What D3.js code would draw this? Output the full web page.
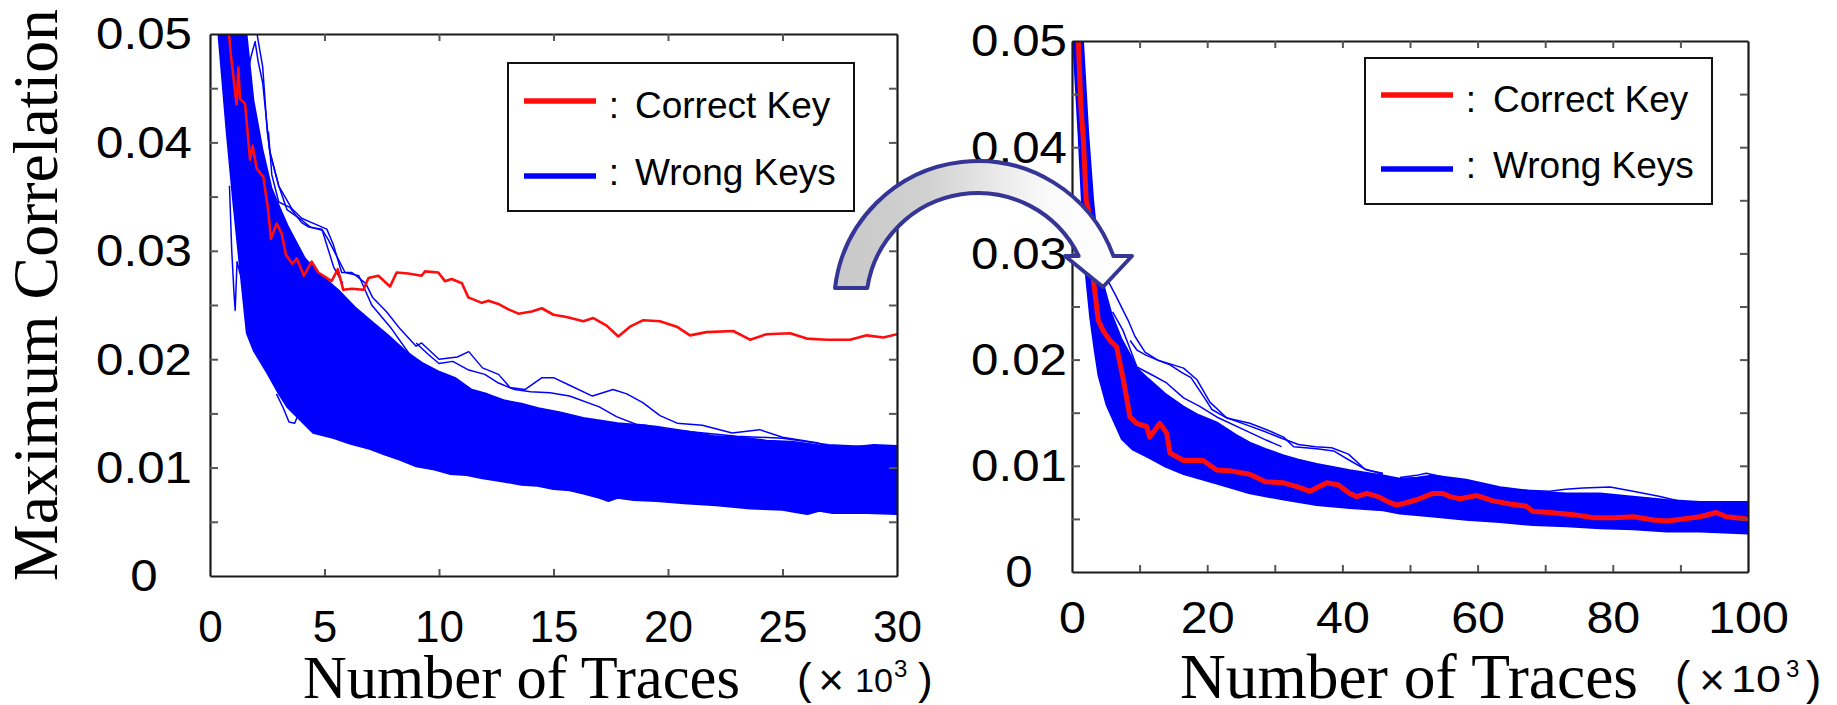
<!DOCTYPE html>
<html><head><meta charset="utf-8">
<script src="https://cdn.jsdelivr.net/npm/d3@7"></script>
<style>
html,body{margin:0;padding:0;background:#fff;}
svg{display:block;}
</style></head><body>
<svg id="chart" width="1837" height="705"></svg>
<script>
// ---------------- DATA (x in 10^3 traces, y = maximum correlation) ----------------
// Left panel: 0..30 k traces
const leftXTickLabels = [0, 5, 10, 15, 20, 25, 30];
const leftXMinorTicks = [5, 10, 15, 20, 25];
const leftYTickLabels = [0, 0.01, 0.02, 0.03, 0.04, 0.05];
const yMinorTicks = [0.005, 0.01, 0.015, 0.02, 0.025, 0.03, 0.035, 0.04, 0.045];

const leftCorrect = [[0.75,0.055],[0.83,0.05],[0.92,0.0479],[1.16,0.0435],[1.24,0.0469],[1.31,0.044],[1.53,0.0436],[1.75,0.0384],[1.86,0.0397],[2.04,0.0376],[2.33,0.0368],[2.55,0.0336],[2.66,0.0311],[2.91,0.0325],[3.13,0.0316],[3.32,0.0296],[3.6,0.0288],[3.79,0.0293],[4.1,0.0277],[4.44,0.029],[4.73,0.028],[5.31,0.0272],[5.58,0.0283],[5.82,0.0264],[6.19,0.0265],[6.7,0.0264],[6.92,0.0275],[7.35,0.0277],[7.86,0.0267],[8.15,0.028],[8.66,0.0279],[9.24,0.0277],[9.39,0.0281],[9.97,0.028],[10.26,0.0272],[10.55,0.0274],[11.0,0.027],[11.28,0.0257],[11.87,0.0252],[12.16,0.0254],[12.59,0.0251],[13.03,0.0246],[13.47,0.0242],[14.05,0.0244],[14.49,0.0247],[15.0,0.0241],[15.57,0.0239],[16.3,0.0235],[16.74,0.0238],[17.32,0.0231],[17.83,0.0221],[18.34,0.023],[18.92,0.0236],[19.65,0.0235],[20.38,0.023],[20.96,0.0222],[21.68,0.0225],[22.85,0.0226],[23.58,0.0218],[24.3,0.0223],[25.33,0.0224],[26.06,0.0219],[26.93,0.0218],[27.95,0.0218],[28.68,0.0222],[29.4,0.022],[30,0.0223]];

const leftWrongUpper = [[0.25,0.07],[1.45,0.056],[1.6,0.05],[1.9,0.0439],[2.3,0.0393],[2.69,0.0358],[2.9,0.0347],[3.42,0.0322],[4.15,0.0293],[4.88,0.0277],[5.6,0.0264],[6.33,0.0248],[7.06,0.0235],[7.79,0.0222],[8.52,0.0208],[9.24,0.0197],[9.97,0.0189],[10.7,0.0183],[11.43,0.0172],[12.1,0.0168],[12.88,0.0162],[13.6,0.0159],[14.34,0.0155],[15.3,0.0151],[16.3,0.0146],[17.8,0.0141],[19,0.0139],[20,0.0135],[21,0.0133],[22.1,0.0129],[23.2,0.0128],[24.3,0.0125],[25.4,0.0124],[26.5,0.0121],[28,0.0119],[29,0.0121],[30,0.012]];
const leftWrongLower = [[0.25,0.07],[0.36,0.05],[0.72,0.041],[1.0,0.0347],[1.3,0.0285],[1.6,0.0224],[1.9,0.0208],[2.5,0.0187],[3.0,0.0168],[3.36,0.0156],[4.5,0.0132],[5.4,0.0127],[6.1,0.0122],[7.0,0.0117],[7.6,0.0112],[8.3,0.0107],[9.0,0.0101],[9.8,0.0098],[10.5,0.0094],[11.2,0.0093],[11.9,0.009],[12.8,0.0087],[13.6,0.0084],[14.3,0.0083],[15,0.008],[15.7,0.0079],[16.3,0.0076],[17.0,0.0072],[17.4,0.0069],[17.8,0.0072],[18.5,0.007],[19.5,0.0069],[20.7,0.0067],[22.1,0.0065],[23.6,0.0062],[25,0.0061],[25.8,0.0058],[26.1,0.0057],[26.6,0.006],[27.2,0.0058],[28.7,0.0058],[30,0.0057]];
const leftWrong1 = [[1.9,0.052],[2.11,0.0493],[2.3,0.047],[2.5,0.041],[2.62,0.039],[3.0,0.036],[3.57,0.0339],[4.0,0.033],[4.44,0.0326],[5.1,0.032],[5.38,0.0306],[5.75,0.028],[6.2,0.028],[6.8,0.027],[7.1,0.0257],[7.7,0.0244],[8.3,0.0228],[9.0,0.0212],[9.24,0.0215],[10.0,0.02],[10.8,0.0202],[11.3,0.0207],[11.9,0.0192],[12.6,0.0186],[13.1,0.0174],[13.75,0.0172],[14.5,0.0183],[15.0,0.0183],[15.7,0.0176],[16.7,0.0166],[17.6,0.0172],[18.2,0.0168],[18.9,0.016],[19.65,0.0148],[20.4,0.0141],[21.5,0.0139],[22.8,0.0132],[24,0.0135],[25,0.0128],[26.5,0.0123],[27.2,0.0118],[28.5,0.0119],[30,0.0118]];
const leftWrong2 = [[9.0,0.0215],[9.5,0.0205],[10.0,0.0196],[10.6,0.0198],[11.3,0.019],[12.0,0.0186],[12.6,0.0178],[13.3,0.0172],[14.0,0.017],[14.85,0.0169],[15.7,0.0166],[17.0,0.0156],[17.75,0.0147],[18.6,0.014],[19.5,0.0138],[21,0.0133],[23,0.0129],[25,0.0127],[27,0.0121],[30,0.0118]];
const leftWrong3 = [[2.55,0.041],[2.7,0.037],[3.0,0.0345],[3.49,0.034],[4.0,0.0326],[4.3,0.0322],[4.88,0.032],[5.17,0.031],[5.9,0.028],[6.5,0.0277],[7.06,0.025],[7.93,0.0228],[8.8,0.0202],[9.5,0.019]];
const leftWrong4 = [[1.6,0.046],[1.8,0.048],[1.97,0.0493],[2.1,0.0475],[2.3,0.0455],[2.6,0.0393],[3.0,0.036],[3.36,0.0338],[3.9,0.033],[4.37,0.0322],[4.9,0.0319],[5.4,0.0285],[5.8,0.027]];
const leftWrong5 = [[0.85,0.036],[0.95,0.03],[1.05,0.026],[1.1,0.0245],[1.18,0.029],[1.3,0.028],[1.5,0.027]];
const leftWrong6 = [[2.9,0.0168],[3.2,0.0155],[3.45,0.0142],[3.7,0.0141],[3.9,0.0152],[4.2,0.0149],[4.5,0.0136]];

// Right panel: 0..100 k traces
const rightXTickLabels = [0, 20, 40, 60, 80, 100];
const rightXMinorTicks = [10, 20, 30, 40, 50, 60, 70, 80, 90];
const rightYTickLabels = [0, 0.01, 0.02, 0.03, 0.04, 0.05];

const rightCorrect = [[0.9,0.06],[0.94,0.05],[1.3,0.044],[1.68,0.0407],[2.1,0.035],[2.42,0.0342],[3.15,0.0276],[3.89,0.0237],[4.63,0.0227],[5.62,0.0218],[6.6,0.0212],[7.6,0.0181],[8.58,0.0146],[9.57,0.014],[11.05,0.0137],[11.5,0.0127],[13.0,0.014],[14.0,0.0131],[14.5,0.0112],[16.5,0.0105],[19.4,0.0105],[21.4,0.0096],[23.6,0.0095],[26.3,0.0092],[28.6,0.0085],[31.3,0.0084],[33.5,0.008],[35.2,0.0076],[37.7,0.0084],[39.4,0.0082],[41.1,0.0074],[42.1,0.0071],[43.6,0.0074],[45.3,0.0071],[46.8,0.0066],[48,0.0063],[49.3,0.0065],[51,0.0068],[53.4,0.0074],[54.9,0.0074],[55.9,0.0071],[57.4,0.0069],[59.9,0.0072],[62.3,0.0067],[64.8,0.0064],[67.2,0.0062],[68.2,0.0057],[70.7,0.0056],[74.2,0.0054],[77.2,0.0051],[80.1,0.0051],[83.1,0.0052],[86.0,0.0049],[88,0.0048],[90.4,0.005],[92.9,0.0052],[95.3,0.0056],[96.8,0.0052],[100,0.005]];
const rightWrongUpper = [[1.2,0.07],[1.68,0.0497],[2.42,0.0413],[3.15,0.035],[4.14,0.0287],[4.9,0.0265],[5.87,0.0243],[7.3,0.022],[8.83,0.0202],[9.6,0.0192],[11.3,0.0182],[13.8,0.0168],[16.5,0.0156],[18.7,0.0148],[21.4,0.0141],[24.6,0.0128],[26.3,0.0122],[28.6,0.0116],[31.3,0.011],[33.5,0.0106],[36.2,0.0102],[41.1,0.0096],[46,0.0091],[48.5,0.0088],[51,0.0089],[53.4,0.0091],[58.3,0.0087],[63.3,0.008],[68.2,0.0076],[73.2,0.0074],[78.1,0.0074],[83,0.0071],[88,0.0068],[92.9,0.0066],[100,0.0066]];
const rightWrongLower = [[0.1,0.07],[0.15,0.05],[0.94,0.0413],[1.43,0.035],[1.92,0.0287],[2.66,0.024],[3.3,0.021],[3.9,0.0185],[5.1,0.0157],[7.35,0.0125],[9,0.0115],[11.5,0.0107],[13.8,0.0099],[16.5,0.0092],[21.4,0.0083],[26.3,0.0074],[31.3,0.0068],[36.2,0.0063],[41.1,0.006],[46,0.0058],[48.5,0.0055],[53.4,0.0052],[58.3,0.0049],[63.3,0.0047],[68.2,0.0044],[73.2,0.0043],[78.1,0.0041],[83,0.004],[88,0.0038],[92.9,0.0038],[100,0.0036]];
const rightWrong1 = [[8.6,0.0218],[9.6,0.0209],[11,0.0204],[12.5,0.02],[14.5,0.0196],[16.5,0.0192],[18.5,0.0181],[20.4,0.016],[22.9,0.0145],[26.3,0.014],[28.8,0.0134],[31.3,0.0127],[32.8,0.0118],[36.2,0.0116],[38.7,0.0114],[41.1,0.0105],[43.6,0.0096],[46,0.0093]];
const rightWrong2 = [[6.0,0.0245],[7.5,0.0228],[8.3,0.0215],[9.6,0.0193],[12,0.0185],[14,0.0178],[16.5,0.0164],[18.9,0.0156],[21.4,0.0146],[25.4,0.0134],[28.8,0.0124],[31,0.0118]];
const rightWrong3 = [[48.5,0.0089],[51,0.0091],[52.4,0.0093],[55.9,0.0088],[60,0.0084],[63.3,0.0078],[67,0.0077],[70.7,0.0076],[73,0.0078],[75.6,0.0079],[79.6,0.008],[83,0.0076],[87,0.0071],[90.4,0.0066],[95.3,0.0065],[100,0.0065]];
const rightWrong4 = [[4.5,0.0285],[5.5,0.0272],[6.5,0.026],[7.5,0.0247],[8.3,0.0237],[9.3,0.0222],[10.8,0.0207],[12.8,0.0199],[14.5,0.0195],[16.2,0.0188],[17.6,0.0183],[19.7,0.0163],[20.7,0.0153],[22.6,0.0146],[25.6,0.0139],[28.6,0.0132],[31,0.0126],[33.5,0.012],[36,0.0118],[38.4,0.0117],[40.9,0.0111],[43.3,0.0097],[46,0.0092]];

const legendLabels = ["Correct Key", "Wrong Keys"];
const yTitle = "Maximum Correlation";
const xTitle = "Number of Traces";

// ---------------- DRAWING ----------------
const svg = d3.select("#chart");
const defs = svg.append("defs");
const BLUE = "#0000ff", RED = "#ff0d0d";
const SANS = "'Liberation Sans', Arial, Helvetica, sans-serif";
const SERIF = "'Liberation Serif', 'Times New Roman', serif";
const fmtY = d => d === 0 ? "0" : d.toFixed(2);

function stretch(sel, f) {
  sel.each(function () {
    const w = this.getComputedTextLength();
    d3.select(this).attr("textLength", w * f).attr("lengthAdjust", "spacingAndGlyphs");
  });
}

function panel(cfg) {
  const g = svg.append("g").attr("transform", `translate(${cfg.left},${cfg.top})`);
  const x = d3.scaleLinear().domain(cfg.xDomain).range([0, cfg.width]);
  const y = d3.scaleLinear().domain([0, 0.05]).range([cfg.height, 0]);
  defs.append("clipPath").attr("id", cfg.id).append("rect").attr("width", cfg.width).attr("height", cfg.height);
  const plot = g.append("g").attr("clip-path", `url(#${cfg.id})`);
  const line = d3.line().x(d => x(d[0])).y(d => y(d[1]));

  const poly = cfg.upper.concat(cfg.lower.slice().reverse());
  plot.append("path").attr("d", line(poly) + "Z")
    .attr("fill", BLUE).attr("stroke", BLUE).attr("stroke-width", 1.6).attr("stroke-linejoin", "round");
  cfg.outliers.forEach(o => plot.append("path").attr("d", line(o))
    .attr("fill", "none").attr("stroke", BLUE).attr("stroke-width", 1.5).attr("stroke-linejoin", "round"));
  plot.append("path").attr("d", line(cfg.correct))
    .attr("fill", "none").attr("stroke", RED).attr("stroke-width", cfg.redWidth).attr("stroke-linejoin", "round");

  // frame + inward ticks (no labels)
  const styleAx = a => {
    a.selectAll("text").remove();
    a.select(".domain").attr("stroke", "#1a1a1a").attr("stroke-width", 2.2);
    a.selectAll(".tick line").attr("stroke", "#555").attr("stroke-width", 2);
  };
  g.append("g").attr("transform", `translate(0,${cfg.height})`)
    .call(d3.axisBottom(x).tickValues(cfg.xMinor).tickSizeInner(-7).tickSizeOuter(0)).call(styleAx);
  g.append("g")
    .call(d3.axisTop(x).tickValues(cfg.xMinor).tickSizeInner(-7).tickSizeOuter(0)).call(styleAx);
  g.append("g")
    .call(d3.axisLeft(y).tickValues(yMinorTicks).tickSizeInner(-8).tickSizeOuter(0)).call(styleAx);
  g.append("g").attr("transform", `translate(${cfg.width},0)`)
    .call(d3.axisRight(y).tickValues(yMinorTicks).tickSizeInner(-8).tickSizeOuter(0)).call(styleAx);

  // tick labels
  const xl = g.append("g").attr("transform", `translate(0,${cfg.height})`)
    .call(d3.axisBottom(x).tickValues(cfg.xLabels).tickSize(0).tickPadding(cfg.xPad).tickFormat(d3.format("d")));
  xl.select(".domain").remove();
  xl.selectAll(".tick line").remove();
  xl.attr("font-family", null).attr("font-size", null);
  const xt = xl.selectAll("text").attr("font-family", SANS).attr("font-size", 44).attr("fill", "#000");
  if (cfg.xStretch !== 1) stretch(xt, cfg.xStretch);

  const yl = g.append("g")
    .call(d3.axisLeft(y).tickValues(cfg.yLabels).tickSize(0).tickPadding(cfg.yPad).tickFormat(fmtY));
  yl.select(".domain").remove();
  yl.selectAll(".tick line").remove();
  yl.attr("font-family", null).attr("font-size", null);
  const yt = yl.selectAll("text").attr("font-family", SANS).attr("font-size", 44)
    .attr("fill", "#000").attr("text-anchor", "middle").attr("dy", "0.34em");
  stretch(yt, 1.12);

  // legend
  const L = cfg.legend;
  const lg = svg.append("g");
  lg.append("rect").attr("x", L.x).attr("y", L.y).attr("width", L.w).attr("height", L.h)
    .attr("fill", "#fff").attr("stroke", "#111").attr("stroke-width", 2);
  [[RED, L.row1, L.base1, legendLabels[0]], [BLUE, L.row2, L.base2, legendLabels[1]]].forEach(([c, ry, by, t]) => {
    lg.append("line").attr("x1", L.lx1).attr("x2", L.lx2).attr("y1", ry).attr("y2", ry)
      .attr("stroke", c).attr("stroke-width", 5.5);
    lg.append("text").attr("x", L.colonX).attr("y", by).attr("text-anchor", "middle")
      .attr("font-family", SANS).attr("font-size", 37).text(":");
    lg.append("text").attr("x", L.textX).attr("y", by)
      .attr("font-family", SANS).attr("font-size", 37).text(t);
  });

  // x title
  svg.append("text").attr("x", cfg.titleX).attr("y", 698)
    .attr("font-family", SERIF).attr("font-size", cfg.titleSize)
    .attr("textLength", cfg.titleLen).attr("lengthAdjust", "spacingAndGlyphs").text(xTitle);
  // (x10^3)
  const U = cfg.unit;
  const ug = svg.append("g").attr("font-family", SANS).attr("fill", "#000");
  ug.append("text").attr("x", U.lp).attr("y", 694).attr("font-size", U.ps).text("(");
  ug.append("text").attr("x", U.times).attr("y", 695).attr("text-anchor", "middle").attr("font-size", 44).text("×");
  ug.append("text").attr("x", U.ten).attr("y", 692).attr("font-size", U.ts)
    .attr("textLength", U.tenLen).attr("lengthAdjust", "spacingAndGlyphs").text("10");
  ug.append("text").attr("x", U.sup).attr("y", 677).attr("font-size", 24).text("3");
  ug.append("text").attr("x", U.rp).attr("y", 694).attr("font-size", U.ps).text(")");
}

panel({
  id: "clipL", left: 210, top: 34, width: 687, height: 542, xDomain: [0, 30],
  upper: leftWrongUpper, lower: leftWrongLower,
  outliers: [leftWrong1, leftWrong2, leftWrong3, leftWrong4, leftWrong5, leftWrong6],
  correct: leftCorrect, redWidth: 2.6,
  xMinor: leftXMinorTicks, xLabels: leftXTickLabels, xPad: 35, xStretch: 1,
  yLabels: leftYTickLabels, yPad: 66,
  legend: { x: 508, y: 63, w: 346, h: 148, lx1: 524, lx2: 596, row1: 101, row2: 176, colonX: 614, textX: 635, base1: 118, base2: 185 },
  titleX: 303, titleSize: 61, titleLen: 437,
  unit: { lp: 797, ps: 44, times: 831, ten: 855, ts: 34, tenLen: 38, sup: 894, rp: 918 }
});

panel({
  id: "clipR", left: 1072, top: 41, width: 676, height: 531, xDomain: [0, 100],
  upper: rightWrongUpper, lower: rightWrongLower,
  outliers: [rightWrong1, rightWrong2, rightWrong3, rightWrong4],
  correct: rightCorrect, redWidth: 5,
  xMinor: rightXMinorTicks, xLabels: rightXTickLabels, xPad: 30, xStretch: 1.1,
  yLabels: rightYTickLabels, yPad: 53,
  legend: { x: 1365, y: 58, w: 347, h: 146, lx1: 1381, lx2: 1453, row1: 95, row2: 169, colonX: 1471, textX: 1493, base1: 112, base2: 178 },
  titleX: 1180, titleSize: 63, titleLen: 458,
  unit: { lp: 1675, ps: 46, times: 1712, ten: 1731, ts: 36, tenLen: 50, sup: 1786, rp: 1806 }
});

// y title
svg.append("text").attr("transform", "translate(57,295) rotate(-90)")
  .attr("text-anchor", "middle").attr("font-family", SERIF).attr("font-size", 63)
  .attr("textLength", 572).attr("lengthAdjust", "spacingAndGlyphs").text(yTitle);

// curved arrow between the panels
const grad = defs.append("linearGradient").attr("id", "arrowGrad")
  .attr("gradientUnits", "userSpaceOnUse").attr("x1", 835).attr("y1", 0).attr("x2", 1130).attr("y2", 0);
grad.append("stop").attr("offset", 0).attr("stop-color", "#c8c8c8");
grad.append("stop").attr("offset", 0.3).attr("stop-color", "#d0d0d0");
grad.append("stop").attr("offset", 0.72).attr("stop-color", "#fafafa");
grad.append("stop").attr("offset", 1).attr("stop-color", "#ffffff");
const cx = 978, cy = 305, R = 144, r = 112;
const oL = [cx - Math.sqrt(R * R - 17 * 17), 288], iL = [cx - Math.sqrt(r * r - 17 * 17), 288];
const oR = [cx + Math.sqrt(R * R - 49 * 49), 256], iR = [cx + Math.sqrt(r * r - 49 * 49), 256];
const ad = `M${oL[0]},${oL[1]} A${R},${R} 0 0 1 ${oR[0]},${oR[1]} L1132,256 L1103,287 L1065,256 L${iR[0]},${iR[1]} A${r},${r} 0 0 0 ${iL[0]},${iL[1]} Z`;
svg.append("path").attr("d", ad).attr("fill", "url(#arrowGrad)")
  .attr("stroke", "#353595").attr("stroke-width", 4).attr("stroke-linejoin", "round");
</script>
</body></html>
